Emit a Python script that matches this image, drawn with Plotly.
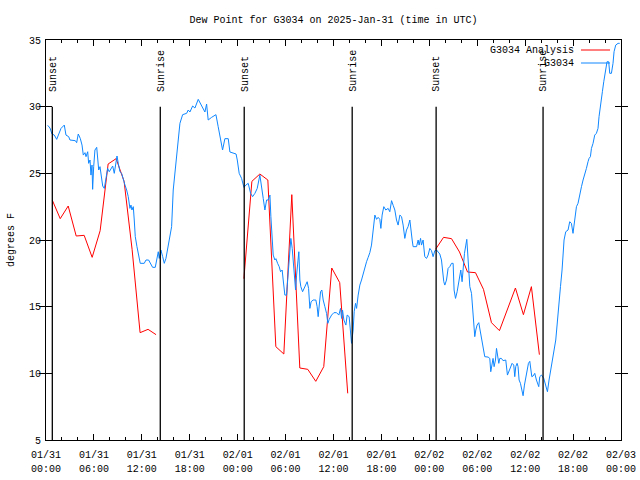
import pandas as pd
import plotly.graph_objects as go

# ---------------- data (hours after 2025-01-31 00:00 UTC) ----------------
START = "2025-01-31 00:00"

blue_hours = [
    0.21, 0.50, 0.75, 1.04, 1.34, 1.66, 1.88, 2.29, 2.50, 2.84, 3.00, 3.67, 3.84, 4.04, 4.29,
    4.51, 4.67, 4.88, 5.01, 5.22, 5.34, 5.51, 5.63, 5.76, 5.84, 5.97, 6.13, 6.35, 6.47, 6.60,
    6.76, 6.92, 7.10, 7.30, 7.51, 7.72, 7.92, 8.14, 8.35, 8.55, 8.76, 8.89, 9.05, 9.26, 9.47,
    9.67, 9.89, 10.10, 10.30, 10.51, 10.64, 10.76, 10.93, 11.05, 11.18, 11.39, 11.60, 11.80,
    12.30, 12.52, 12.85, 13.14, 13.35, 13.68, 13.89, 14.06, 14.18, 14.39, 14.61, 14.81, 15.02,
    15.23, 15.43, 15.56, 15.73, 15.93, 16.27, 16.48, 16.77, 17.11, 17.61, 17.81, 18.02, 18.36,
    18.65, 19.06, 19.49, 19.90, 20.11, 20.31, 20.74, 21.28, 21.56, 21.78, 22.11, 22.40, 22.82,
    23.03, 23.44, 23.80, 23.95, 24.19, 24.49, 24.78, 25.03, 25.32, 25.62, 25.87, 26.16, 26.45,
    26.78, 27.00, 27.20, 27.41, 27.62, 27.82, 28.04, 28.16, 28.32, 28.45, 28.66, 28.79, 29.00,
    29.20, 29.37, 29.57, 29.70, 29.91, 30.12, 30.33, 30.54, 30.66, 30.83, 30.95, 31.08, 31.25,
    31.38, 31.50, 31.66, 31.79, 31.91, 32.13, 32.29, 32.54, 32.70, 32.88, 33.04, 33.20, 33.45,
    33.79, 33.95, 34.08, 34.21, 34.38, 34.54, 34.71, 34.92, 35.13, 35.29, 35.46, 35.76, 36.05,
    36.38, 36.67, 36.88, 37.01, 37.13, 37.30, 37.55, 37.71, 37.96, 38.14, 38.26, 38.46, 38.59,
    38.76, 38.89, 39.09, 39.30, 39.51, 39.71, 39.92, 40.14, 40.34, 40.55, 40.76, 40.89, 41.05,
    41.18, 41.39, 41.59, 41.80, 41.93, 42.09, 42.30, 42.55, 42.84, 43.05, 43.27, 43.47, 43.68,
    43.89, 44.09, 44.31, 44.52, 44.72, 44.93, 45.14, 45.34, 45.56, 45.68, 45.85, 45.97, 46.40,
    46.60, 46.72, 46.90, 47.02, 47.22, 47.43, 47.65, 47.85, 48.06, 48.27, 48.47, 48.69, 48.90,
    49.10, 49.31, 49.52, 49.65, 49.81, 49.94, 50.15, 50.35, 50.56, 50.78, 50.98, 51.10, 51.28,
    51.48, 51.60, 51.81, 51.94, 52.10, 52.23, 52.40, 52.57, 52.69, 52.78, 52.94, 53.07, 53.28,
    53.40, 53.57, 53.69, 53.82, 53.98, 54.19, 54.32, 54.53, 54.66, 54.82, 54.94, 55.36, 55.57,
    55.69, 55.86, 55.98, 56.11, 56.28, 56.41, 56.53, 56.70, 56.82, 57.03, 57.23, 57.57, 57.78,
    57.95, 58.16, 58.36, 58.57, 58.70, 58.82, 58.99, 59.11, 59.24, 59.41, 59.61, 59.74, 59.91,
    60.08, 60.24, 60.41, 60.58, 60.70, 60.83, 60.99, 61.20, 61.41, 61.70, 61.83, 62.04, 62.33,
    62.58, 62.79, 62.99, 63.20, 63.42, 63.62, 63.83, 63.99, 64.21, 64.42, 64.62, 64.74, 64.87,
    65.08, 65.37, 65.58, 65.79, 65.99, 66.21, 66.42, 66.62, 66.83, 67.05, 67.25, 67.46, 67.67,
    67.87, 68.00, 68.17, 68.30, 68.50, 68.71, 68.92, 69.12, 69.25, 69.46, 69.67, 69.84, 70.09,
    70.25, 70.46, 70.59, 70.80, 71.00, 71.13, 71.34, 71.63, 71.84,
]

blue_dewpoint = [
    28.6, 28.4, 27.95, 27.87, 27.55, 28.0, 28.37, 28.62, 27.87, 27.75, 27.5, 27.45, 27.3, 27.95, 27.62,
    27.12, 26.37, 26.55, 26.25, 26.62, 25.75, 26.0, 24.87, 25.62, 23.8, 25.5, 26.75, 26.95, 26.25, 25.25,
    25.5, 24.75, 24.05, 23.87, 24.5, 25.37, 25.12, 25.37, 25.55, 25.0, 26.05, 26.3, 25.75, 25.12, 25.0,
    24.5, 24.12, 23.75, 23.25, 22.37, 22.62, 22.25, 22.5, 21.5, 20.25, 19.5, 18.95, 18.25,
    18.25, 18.5, 18.5, 18.2, 17.95, 17.95, 18.5, 19.12, 18.62, 19.25, 18.75, 18.25, 18.62,
    19.25, 19.87, 20.37, 21.0, 23.75, 25.75, 27.5, 28.75, 29.4, 29.5, 29.75, 29.6, 30.05,
    29.9, 30.55, 30.1, 29.6, 30.2, 29.0, 29.2, 29.4, 28.5, 27.75, 26.75, 27.6, 27.6,
    26.6, 26.5, 26.45, 26.0, 25.0, 24.62, 23.95, 24.12, 24.25, 23.5, 23.25, 23.5, 23.87,
    24.87, 24.12, 23.12, 22.25, 23.0, 23.0, 23.37, 21.75, 20.25, 18.87, 18.5, 18.6, 18.25,
    18.0, 17.62, 17.75, 17.0, 15.87, 15.87, 17.5, 19.25, 20.12, 19.37, 18.5, 18.0, 16.25,
    17.37, 18.0, 19.12, 17.0, 16.5, 16.12, 16.37, 16.62, 16.87, 16.37, 14.87, 15.37, 15.5,
    15.5, 15.0, 14.25, 15.0, 16.12, 16.25, 15.5, 15.0, 14.5, 13.75, 14.05, 14.37, 14.55,
    14.55, 14.37, 14.87, 14.12, 14.75, 14.0, 13.62, 14.37, 14.25, 12.75, 12.25, 13.25, 14.62,
    15.25, 14.87, 15.87, 16.62, 17.0, 17.5, 17.95, 18.37, 18.7, 19.05, 19.62, 20.25, 21.25,
    21.87, 21.55, 21.7, 21.55, 20.87, 21.87, 22.5, 22.25, 22.37, 22.12, 22.95, 22.6, 22.25,
    21.5, 21.12, 21.87, 21.75, 21.12, 20.12, 20.75, 21.0, 21.5, 20.62, 20.0, 19.5, 19.5,
    20.0, 19.62, 20.12, 19.62, 20.0, 18.75, 18.62, 18.87, 19.37, 19.2, 18.75, 19.2, 19.25,
    19.1, 18.95, 18.5, 17.5, 16.87, 16.62, 17.0, 17.87, 18.0, 18.25, 18.25, 16.25, 15.62,
    16.12, 16.62, 17.37, 17.75, 16.87, 18.0, 19.0, 19.62, 20.05, 19.25, 17.5, 16.5, 16.0,
    15.0, 13.62, 12.75, 13.25, 13.62, 13.8, 13.37, 12.62, 12.12, 11.5, 11.25, 11.22, 11.12,
    10.12, 10.87, 11.12, 10.5, 11.0, 11.87, 11.37, 10.75, 11.12, 11.12, 10.95, 11.0, 9.87,
    10.12, 10.5, 10.75, 10.62, 9.75, 10.5, 10.75, 10.5, 9.5, 9.25, 8.75, 8.32, 9.12,
    9.75, 10.25, 10.75, 10.9, 10.4, 9.75, 9.8, 10.0, 9.5, 9.0, 9.75, 9.87, 9.62,
    9.0, 8.62, 9.5, 10.37, 11.0, 11.75, 12.5, 13.75, 15.25, 16.5, 17.75, 18.75, 20.0,
    20.62, 20.75, 21.37, 21.25, 20.5, 21.37, 22.5, 22.75, 23.5, 24.0, 24.5, 24.87, 25.37,
    25.87, 26.12, 26.25, 26.87, 27.25, 27.87, 28.0, 28.37, 29.25, 30.37, 31.12, 31.87, 32.87,
    33.37, 33.37, 32.5, 32.5, 33.25, 34.12, 34.62, 34.75, 34.75,
]

# Analysis series (hourly, three separate runs; None = gap)
red_hours = [
    0.78, 1.78, 2.78, 3.78, 4.78, 5.78, 6.78, 7.78, 8.78, 9.78, 10.78, 11.78, 12.78, 13.78, None,
    24.78, 25.78, 26.78, 27.78, 28.78, 29.78, 30.78, 31.78, 32.78, 33.78, 34.78, 35.78, 36.78, 37.78, None,
    48.78, 49.78, 50.78, 51.78, 52.78, 53.78, 54.78, 55.78, 56.78, 57.78, 58.78, 59.78, 60.78, 61.78,
]
red_dewpoint = [
    23.0, 21.6, 22.55, 20.3, 20.35, 18.7, 20.7, 25.7, 26.1, 24.4, 19.3, 13.05, 13.3, 12.9, None,
    17.1, 24.4, 24.95, 24.5, 12.0, 11.45, 23.4, 10.4, 10.3, 9.4, 10.5, 17.9, 16.8, 8.5, None,
    19.3, 20.2, 20.1, 19.1, 17.6, 17.55, 16.3, 13.8, 13.2, 14.8, 16.4, 14.4, 16.5, 11.4,
]

sun_event_hours = [0.79, 14.31, 24.82, 38.34, 48.85, 62.24]
sun_event_labels = ["Sunset", "Sunrise", "Sunset", "Sunrise", "Sunset", "Sunrise"]
sun_line_top = 30
sun_line_bottom = 5

series_names = ["G3034 Analysis", "G3034"]
series_colors = ["#ff0000", "#0f87ff"]

y_ticks = [5, 10, 15, 20, 25, 30, 35]
x_span_hours = 72

# ---------------- build ----------------
base = pd.Timestamp(START)
end = base + pd.Timedelta(hours=x_span_hours)


def to_time(hours):
    return [None if h is None else base + pd.Timedelta(hours=h) for h in hours]


FONT = "Liberation Mono, DejaVu Sans Mono, monospace"
TXT = dict(family=FONT, size=10, color="black")

fig = go.Figure()
fig.add_trace(go.Scatter(x=to_time(red_hours), y=red_dewpoint, mode="lines",
                         name=series_names[0], line=dict(color=series_colors[0], width=1),
                         connectgaps=False))
fig.add_trace(go.Scatter(x=to_time(blue_hours), y=blue_dewpoint, mode="lines",
                         name=series_names[1], line=dict(color=series_colors[1], width=1)))
# empty helper trace so the second (time-of-day) label axis is drawn
fig.add_trace(go.Scatter(x=[base, end], y=[None, None], xaxis="x2", mode="lines",
                         showlegend=False, hoverinfo="skip"))

for h, lab in zip(sun_event_hours, sun_event_labels):
    t = base + pd.Timedelta(hours=h)
    fig.add_shape(type="line", xref="x", yref="y", x0=t, x1=t,
                  y0=sun_line_bottom, y1=sun_line_top, line=dict(color="black", width=1.3))
    fig.add_annotation(x=t, y=sun_line_top, xref="x", yref="y", text=lab, textangle=-90,
                       showarrow=False, xanchor="center", yanchor="bottom", yshift=13, xshift=1,
                       font=TXT)

# manual key (text left, sample right, like the original)
key_rows = [(0.975, series_names[0], series_colors[0]), (0.9425, series_names[1], series_colors[1])]
for ypos, name, col in key_rows:
    fig.add_annotation(x=0.9217, y=ypos, xref="paper", yref="paper", text=name,
                       showarrow=False, xanchor="right", yanchor="middle", font=TXT)
    fig.add_shape(type="line", xref="paper", yref="paper", x0=0.9304, x1=0.9809,
                  y0=ypos, y1=ypos, line=dict(color=col, width=1))

fig.update_layout(
    width=640, height=480,
    margin=dict(l=46, r=19, t=40, b=40),
    plot_bgcolor="white", paper_bgcolor="white",
    font=TXT,
    showlegend=False,
    hovermode=False,
    title=dict(text="Dew Point for G3034 on 2025-Jan-31 (time in UTC)",
               x=0.5, xref="paper", xanchor="center",
               y=1 - 19 / 480, yref="container", yanchor="middle", font=TXT),
    xaxis=dict(
        type="date", range=[base, end],
        tick0=base, dtick=6 * 3600 * 1000, tickformat="%m/%d",
        ticks="inside", ticklen=6, tickwidth=1, tickcolor="black",
        showline=True, linecolor="black", linewidth=1, mirror="allticks",
        showgrid=False, zeroline=False, automargin=False, ticklabelstandoff=5,
        minor=dict(dtick=2 * 3600 * 1000, ticks="inside", ticklen=3, tickcolor="black",
                   showgrid=False),
        tickfont=TXT,
    ),
    xaxis2=dict(
        type="date", range=[base, end], matches="x", overlaying="x", anchor="y", side="bottom",
        tick0=base, dtick=6 * 3600 * 1000, tickformat="%H:%M",
        ticks="", showline=False, showgrid=False, zeroline=False, automargin=False,
        ticklabelstandoff=21, tickfont=TXT,
    ),
    yaxis=dict(
        range=[y_ticks[0], y_ticks[-1]], tickvals=y_ticks,
        ticks="inside", ticklen=6, tickwidth=1, tickcolor="black",
        showline=True, linecolor="black", linewidth=1, mirror="allticks",
        showgrid=False, zeroline=False, automargin=False, ticklabelstandoff=2,
        title=dict(text="degrees F", standoff=12, font=TXT),
        tickfont=TXT,
    ),
)

fig.write_html("out.html", config={"displayModeBar": False, "staticPlot": True},
               post_script="document.body.style.margin='0px';")
